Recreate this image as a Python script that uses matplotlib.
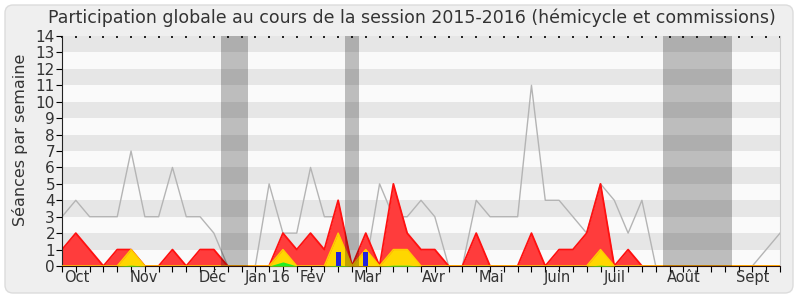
import matplotlib
matplotlib.use("Agg")
import matplotlib.pyplot as plt
from matplotlib.patches import FancyBboxPatch
from matplotlib.transforms import IdentityTransform

# one value per week of the session (53 weeks)
weeks = list(range(53))
median = [3, 4, 3, 3, 3, 7, 3, 3, 6, 3, 3, 2, 0, 0, 0, 5, 2, 2, 6, 3,
          3, 0, 0, 5, 3, 3, 4, 3, 0, 0, 4, 3, 3, 3, 11, 4, 4, 3, 2, 5,
          4, 2, 4, 0, 0, 0, 0, 0, 0, 0, 0, 1, 2]
presence = [1, 2, 1, 0, 1, 1, 0, 0, 1, 0, 1, 1, 0, 0, 0, 0, 2, 1, 2, 1,
            4, 0, 2, 0, 5, 2, 1, 1, 0, 0, 2, 0, 0, 0, 2, 0, 1, 1, 2, 5,
            0, 1, 0, 0, 0, 0, 0, 0, 0, 0, 0, 0, 0]
participation = [0, 0, 0, 0, 0, 1, 0, 0, 0, 0, 0, 0, 0, 0, 0, 0, 1, 0, 0, 0,
                 2, 0, 1, 0, 1, 1, 0, 0, 0, 0, 0, 0, 0, 0, 0, 0, 0, 0, 0, 1,
                 0, 0, 0, 0, 0, 0, 0, 0, 0, 0, 0, 0, 0]
mots = [0, 0, 0, 0, 0, 0.05, 0, 0, 0, 0, 0, 0, 0, 0, 0, 0, 0.25, 0, 0, 0,
        0.05, 0, 0, 0, 0.05, 0.05, 0, 0, 0, 0, 0, 0, 0, 0, 0, 0, 0, 0, 0, 0.05,
        0, 0, 0, 0, 0, 0, 0, 0, 0, 0, 0, 0, 0]
question_weeks = [20, 22]
question_values = [0.87, 0.87]
vacances = [(11.5, 13.5), (20.5, 21.5), (43.5, 48.5)]
month_pos = [1.1, 5.9, 10.9, 14.9, 18.1, 22.1, 26.9, 31.1, 35.9, 40.0, 45.0, 50.0]
month_labels = ["Oct", "Nov", "Déc", "Jan 16", "Fév", "Mar", "Avr", "Mai",
                "Juin", "Juil", "Août", "Sept"]

fig = plt.figure(figsize=(8, 3), dpi=100)
fig.patch.set_facecolor("white")
frame = FancyBboxPatch((5, 7), 788, 288, boxstyle="round,pad=0,rounding_size=8",
                       transform=IdentityTransform(), facecolor="#efefef",
                       edgecolor="#dcdcdc", linewidth=1, zorder=-10)
fig.patches.append(frame)

ax = fig.add_axes([62 / 800, 34 / 300, 718 / 800, 230 / 300])
ax.set_facecolor("#fafafa")

for k in range(14):
    ax.axhspan(k, k + 1, color="#e6e6e6" if k % 2 else "#fafafa", lw=0, zorder=0)

ax.plot(weeks, median, color="#b4b4b4", lw=1, zorder=1)
ax.fill_between(weeks, presence, color="#ff3c3c", lw=0, zorder=2)
ax.plot(weeks, presence, color="#ff1010", lw=1.3, zorder=2)
ax.fill_between(weeks, participation, color="#ffd700", lw=0, zorder=3)
ax.plot(weeks, participation, color="#ffcc00", lw=1.1, zorder=3)
ax.fill_between(weeks, mots, color="#22ee22", lw=0, zorder=4)
ax.bar(question_weeks, question_values, width=0.35, color="#2222dd", zorder=5)

for a, b in vacances:
    ax.axvspan(a, b, color="black", alpha=0.245, lw=0, zorder=6)

ax.set_xlim(0, 52)
ax.set_ylim(0, 14)
ax.set_yticks(range(15))
ax.xaxis.remove_overlapping_locs = False
ax.set_xticks(weeks)
ax.set_xticklabels([])
ax.set_xticks(month_pos, minor=True)
ax.set_xticklabels(month_labels, minor=True)
ax.tick_params(axis="x", which="major", direction="out", length=4, width=0.8)
ax.tick_params(axis="x", which="minor", length=0, pad=3, labelsize=10.5,
               labelcolor="#333333")
ax.tick_params(axis="y", direction="out", length=4, width=0.8, pad=1,
               labelsize=11, labelcolor="#333333")

ax.spines["top"].set_visible(False)
ax.spines["right"].set_color("#cccccc")
ax.spines["bottom"].set_color("#2a1010")
ax.spines["left"].set_color("#222222")

top = ax.secondary_xaxis("top")
top.set_xticks(weeks)
top.set_xticklabels([])
top.tick_params(direction="in", length=1.5, width=1.2)
top.spines["top"].set_visible(False)

fig.text(0.515, 0.94, "Participation globale au cours de la session 2015-2016 (hémicycle et commissions)",
         ha="center", va="center", fontsize=12.5, color="#333333")
fig.text(20 / 800, 1 - 140 / 300, "Séances par semaine", rotation=90,
         ha="center", va="center", fontsize=11.5, color="#333333")

fig.savefig("out.png", dpi=100)
